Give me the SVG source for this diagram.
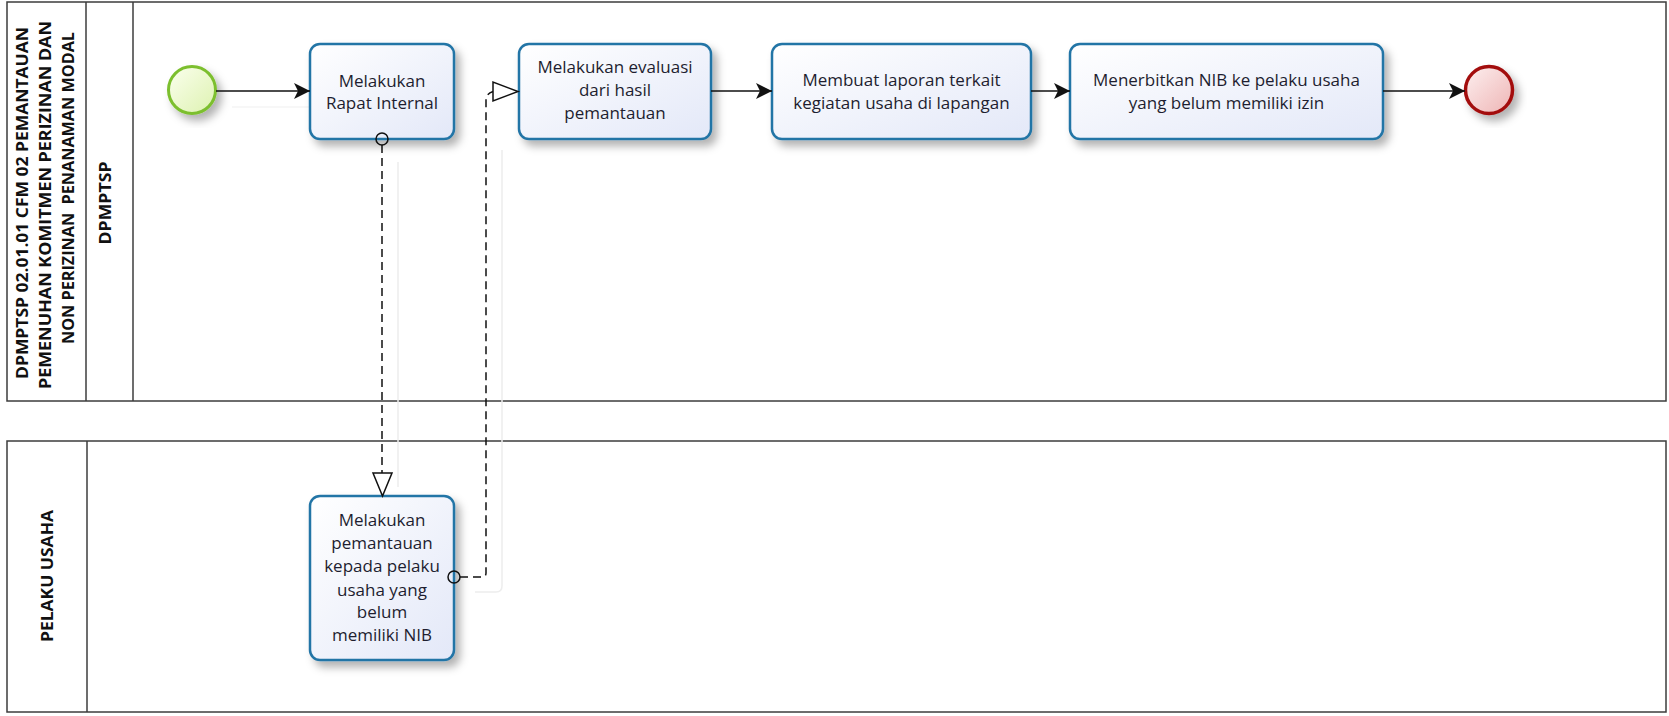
<svg xmlns="http://www.w3.org/2000/svg" width="1669" height="716" viewBox="0 0 1669 716">
<style>
.pool{fill:#ffffff;stroke:#3c3c3c;stroke-width:1.5}
.div{stroke:#3c3c3c;stroke-width:1.5}
.title{font-family:"Open Sans","Noto Sans",sans-serif;font-weight:bold;font-size:16px;fill:#111}
.task rect.box{fill:url(#taskGrad);stroke:#2474a6;stroke-width:2.5;filter:url(#shadow)}
.tt{font-family:"Open Sans","Noto Sans",sans-serif;font-size:17px;fill:#1e1e30;text-anchor:middle}
.seq{fill:none;stroke:#111;stroke-width:1.6}
.msg{fill:none;stroke:#111;stroke-width:1.5;stroke-dasharray:8,5}
.shadowline{fill:none;stroke:#ededed;stroke-width:1.5}
.mstart{fill:none;stroke:#111;stroke-width:1.5}
.mhead{fill:#fff;stroke:#111;stroke-width:1.5}
</style>
<defs>
<linearGradient id="taskGrad" x1="0" y1="0" x2="1" y2="1">
<stop offset="0" stop-color="#ffffff"/>
<stop offset="1" stop-color="#e3e8f8"/>
</linearGradient>
<linearGradient id="startGrad" x1="0" y1="0" x2="1" y2="1">
<stop offset="0" stop-color="#fbffee"/>
<stop offset="1" stop-color="#ddf2b0"/>
</linearGradient>
<linearGradient id="endGrad" x1="0" y1="0" x2="1" y2="1">
<stop offset="0" stop-color="#fdf0f0"/>
<stop offset="1" stop-color="#eeb4b4"/>
</linearGradient>
<filter id="shadow" x="-20%" y="-20%" width="150%" height="150%">
<feDropShadow dx="5" dy="6" stdDeviation="4.5" flood-color="#000" flood-opacity="0.3"/>
</filter>
<marker id="arrow" viewBox="0 0 16 16" refX="16" refY="8" markerWidth="16" markerHeight="16" markerUnits="userSpaceOnUse" orient="auto">
<path d="M0,0 L16,8 L0,16 L4,8 Z" fill="#111"/>
</marker>
</defs>

<g id="pool-dpmptsp">
<rect class="pool" x="7" y="2" width="1659" height="399"/>
<line class="div" x1="86" y1="2" x2="86" y2="401"/>
<line class="div" x1="133" y1="2" x2="133" y2="401"/>
<text class="title" transform="translate(22,203) rotate(-90)" text-anchor="middle" dominant-baseline="central" textLength="352" lengthAdjust="spacingAndGlyphs">DPMPTSP 02.01.01 CFM 02 PEMANTAUAN</text>
<text class="title" transform="translate(44.5,205) rotate(-90)" text-anchor="middle" dominant-baseline="central" textLength="368" lengthAdjust="spacingAndGlyphs">PEMENUHAN KOMITMEN PERIZINAN DAN</text>
<text class="title" xml:space="preserve" transform="translate(67.5,188) rotate(-90)" text-anchor="middle" dominant-baseline="central" textLength="312" lengthAdjust="spacingAndGlyphs">NON PERIZINAN  PENANAMAN MODAL</text>
<text class="title" transform="translate(105,203) rotate(-90)" text-anchor="middle" dominant-baseline="central" textLength="83" lengthAdjust="spacingAndGlyphs">DPMPTSP</text>
</g>

<g id="pool-pelaku">
<rect class="pool" x="7" y="441" width="1659" height="271"/>
<line class="div" x1="87" y1="441" x2="87" y2="712"/>
<text class="title" transform="translate(47,576) rotate(-90)" text-anchor="middle" dominant-baseline="central" textLength="132" lengthAdjust="spacingAndGlyphs">PELAKU USAHA</text>
</g>

<g id="connector-shadows">
<line class="shadowline" x1="232" y1="107" x2="310" y2="107" stroke-opacity="0.6"/>
<line class="shadowline" x1="398" y1="162" x2="398" y2="487"/>
<path class="shadowline" d="M475,592 L496,592 Q502,592 502,586 L502,150"/>
</g>

<g id="start">
<circle cx="192" cy="90" r="23.5" fill="url(#startGrad)" stroke="#7cbf2e" stroke-width="3" filter="url(#shadow)"/>
</g>

<g id="task-rapat" class="task">
<rect class="box" x="310" y="44" width="144" height="95" rx="10"/>
<text class="tt" x="382" y="86.5">Melakukan</text>
<text class="tt" x="382" y="109">Rapat Internal</text>
</g>

<g id="task-evaluasi" class="task">
<rect class="box" x="519" y="44" width="192" height="95" rx="10"/>
<text class="tt" x="615" y="73">Melakukan evaluasi</text>
<text class="tt" x="615" y="96">dari hasil</text>
<text class="tt" x="615" y="119">pemantauan</text>
</g>

<g id="task-laporan" class="task">
<rect class="box" x="772" y="44" width="259" height="95" rx="10"/>
<text class="tt" x="901.5" y="86">Membuat laporan terkait</text>
<text class="tt" x="901.5" y="108.5">kegiatan usaha di lapangan</text>
</g>

<g id="task-nib" class="task">
<rect class="box" x="1070" y="44" width="313" height="95" rx="10"/>
<text class="tt" x="1226.5" y="86">Menerbitkan NIB ke pelaku usaha</text>
<text class="tt" x="1226.5" y="108.5">yang belum memiliki izin</text>
</g>

<g id="end">
<circle cx="1489" cy="90" r="23.5" fill="url(#endGrad)" stroke="#a30f0f" stroke-width="3.5" filter="url(#shadow)"/>
</g>

<g id="task-pemantauan" class="task">
<rect class="box" x="310" y="496" width="144" height="164" rx="10"/>
<text class="tt" x="382" y="526">Melakukan</text>
<text class="tt" x="382" y="549">pemantauan</text>
<text class="tt" x="382" y="572">kepada pelaku</text>
<text class="tt" x="382" y="595.5">usaha yang</text>
<text class="tt" x="382" y="618">belum</text>
<text class="tt" x="382" y="641">memiliki NIB</text>
</g>

<g id="connectors">
<line class="seq" x1="216" y1="91" x2="310" y2="91" marker-end="url(#arrow)"/>
<line class="seq" x1="711" y1="91" x2="772" y2="91" marker-end="url(#arrow)"/>
<line class="seq" x1="1031" y1="91" x2="1070" y2="91" marker-end="url(#arrow)"/>
<line class="seq" x1="1383" y1="91" x2="1465" y2="91" marker-end="url(#arrow)"/>
<path class="msg" d="M382,145 L382,473"/>
<circle class="mstart" cx="382" cy="139" r="6"/>
<polygon class="mhead" points="373,473 392,473 382.5,496"/>
<path class="msg" d="M460,577 L482,577 Q486,577 486,573 L486,99 Q486,94 493,91.5"/>
<circle class="mstart" cx="454" cy="577" r="6"/>
<polygon class="mhead" points="493,82 493,101 518,91.5"/>
</g>
</svg>
